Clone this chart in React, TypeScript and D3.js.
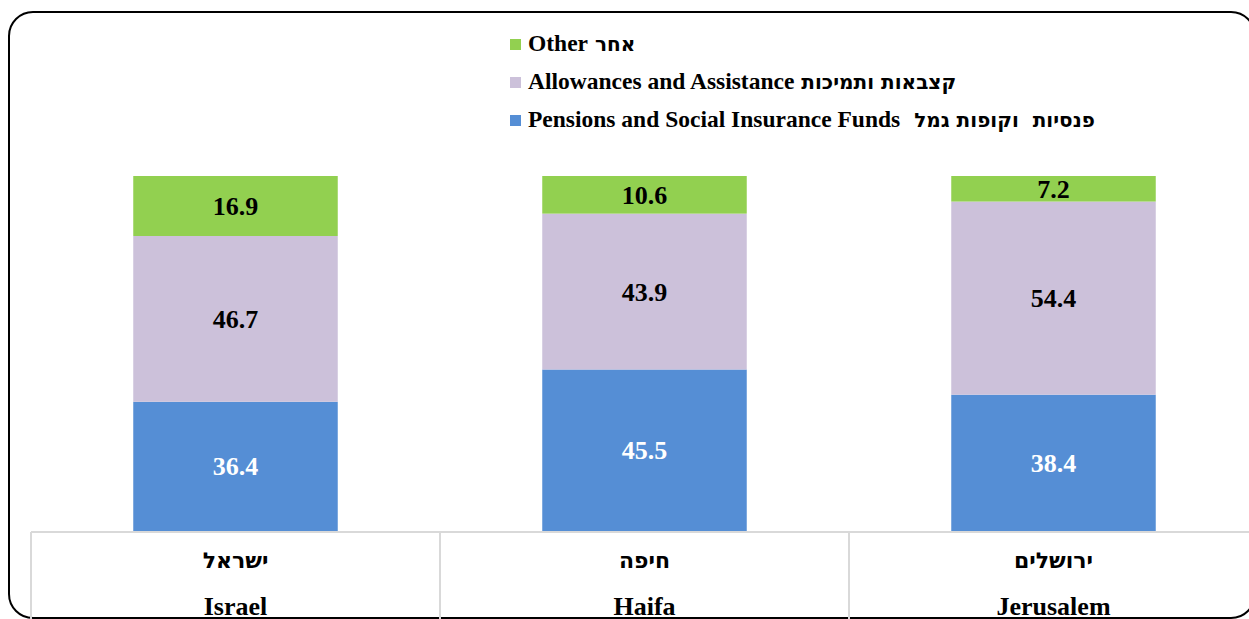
import React from "react";
import * as d3 from "d3";

const categoriesHe = ["ישראל", "חיפה", "ירושלים"];
const categoriesEn = ["Israel", "Haifa", "Jerusalem"];
const pensions = [36.4, 45.5, 38.4];
const allowances = [46.7, 43.9, 54.4];
const other = [16.9, 10.6, 7.2];
const seriesKeys = ["pensions", "allowances", "other"];
const seriesLabelsEn = [
  "Pensions and Social Insurance Funds",
  "Allowances and Assistance",
  "Other",
];
const seriesLabelsHe = ["  פנסיות  וקופות גמל", " קצבאות ותמיכות", " אחר"];
const colors = ["#558ED5", "#CCC1DA", "#92D050"];
const labelColors = ["#ffffff", "#000000", "#000000"];

const W = 1249;
const H = 619;
const FONT = "'Liberation Serif', 'Times New Roman', serif";
const HEFONT = "'DejaVu Sans', sans-serif";

export default function App() {
  const rows = categoriesEn.map((c, i) => ({
    cat: c,
    pensions: pensions[i],
    allowances: allowances[i],
    other: other[i],
  }));
  const stacked = d3.stack<any>().keys(seriesKeys)(rows);

  const tableLeft = 31;
  const colW = 409;
  const x = d3
    .scaleBand<string>()
    .domain(categoriesEn)
    .range([tableLeft, tableLeft + colW * 3])
    .paddingInner(0)
    .paddingOuter(0);
  const barW = x.bandwidth() * 0.5;
  const y = d3.scaleLinear().domain([0, 100]).range([531, 176]);

  const legendOrder = [2, 1, 0];
  const tableTop = 532;

  return (
    <svg
      width={W}
      height={H}
      style={{ position: "fixed", left: 0, top: 0, display: "block", background: "#fff" }}
    >
      <rect x={0} y={0} width={W} height={H} fill="#fff" />
      <rect
        x={9}
        y={12}
        width={1246}
        height={606}
        rx={24}
        ry={24}
        fill="#fff"
        stroke="#000"
        strokeWidth={2}
      />
      {/* legend */}
      {legendOrder.map((si, k) => {
        const ly = 51 + k * 38;
        return (
          <g key={si}>
            <rect x={510} y={ly - 12} width={11} height={11} fill={colors[si]} />
            <text
              x={528}
              y={ly}
              fontFamily={FONT}
              fontWeight="bold"
              fontSize={23.5}
              fill="#000"
              style={{ whiteSpace: "pre" }}
            >
              {seriesLabelsEn[si]}
              <tspan fontFamily={HEFONT} fontSize={20}>
                {seriesLabelsHe[si]}
              </tspan>
            </text>
          </g>
        );
      })}
      {/* bars */}
      {stacked.map((layer, si) => (
        <g key={layer.key}>
          {layer.map((d, i) => {
            const bx = (x(categoriesEn[i]) as number) + (x.bandwidth() - barW) / 2;
            const y0 = y(d[0]);
            const y1 = y(d[1]);
            return (
              <g key={i}>
                <rect x={bx} y={y1} width={barW} height={y0 - y1} fill={colors[si]} />
                <text
                  x={bx + barW / 2}
                  y={(y0 + y1) / 2 + 9}
                  textAnchor="middle"
                  fontFamily={FONT}
                  fontWeight="bold"
                  fontSize={26}
                  fill={labelColors[si]}
                >
                  {(d[1] - d[0]).toFixed(1)}
                </text>
              </g>
            );
          })}
        </g>
      ))}
      {/* table */}
      <g>
        <line x1={tableLeft} x2={W + 10} y1={tableTop} y2={tableTop} stroke="#d9d9d9" strokeWidth={2} />
        {[0, 1, 2, 3].map((k) => (
          <line
            key={k}
            x1={tableLeft + k * colW}
            x2={tableLeft + k * colW}
            y1={tableTop}
            y2={H + 5}
            stroke="#d9d9d9"
            strokeWidth={2}
          />
        ))}
        {categoriesEn.map((c, i) => {
          const cx = (x(c) as number) + x.bandwidth() / 2;
          return (
            <g key={c}>
              <text
                x={cx}
                y={568}
                textAnchor="middle"
                fontFamily={HEFONT}
                fontWeight="bold"
                fontSize={22}
                fill="#000"
              >
                {categoriesHe[i]}
              </text>
              <text
                x={cx}
                y={615}
                textAnchor="middle"
                fontFamily={FONT}
                fontWeight="bold"
                fontSize={26}
                fill="#000"
              >
                {c}
              </text>
            </g>
          );
        })}
      </g>
    </svg>
  );
}
